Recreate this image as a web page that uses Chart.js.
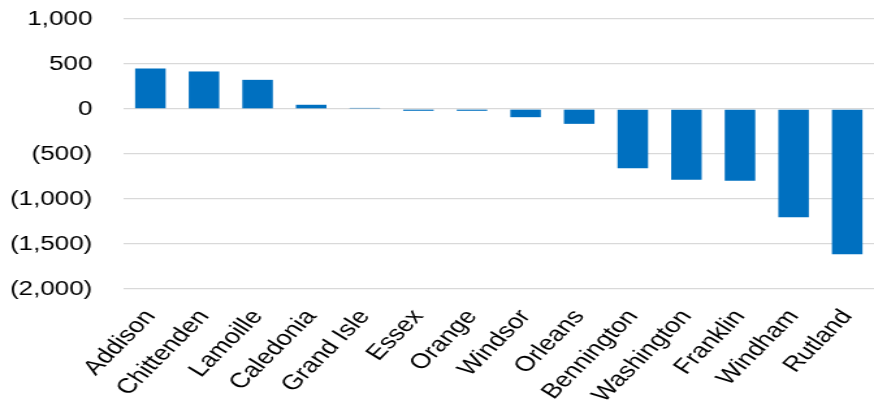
<!DOCTYPE html>
<html>
<head>
<meta charset="utf-8">
<script src="https://cdn.jsdelivr.net/npm/chart.js@4"></script>
<style>
  html, body { margin: 0; padding: 0; background: #fff; overflow: hidden; }
  /* the reference is stretched sideways, so draw narrow and widen it */
  #wrap {
    position: absolute; left: 0; top: -17px;
    width: 672px; height: 433px;
    transform: scaleX(1.3006); transform-origin: left top;
  }
</style>
</head>
<body>
<div id="wrap"><canvas id="chart"></canvas></div>
<script>
// counties, sorted by change
const counties = ['Addison', 'Chittenden', 'Lamoille', 'Caledonia', 'Grand Isle', 'Essex', 'Orange',
  'Windsor', 'Orleans', 'Bennington', 'Washington', 'Franklin', 'Windham', 'Rutland'];
const change = [450, 417, 324, 47, 12, -20, -20, -91, -165, -657, -787, -798, -1202, -1615];

// y axis range
const yMin = -2000;
const yMax = 1000;
const yStep = 500;

// format like (1,000) for negatives
function fmt(v) {
  const s = Math.abs(v).toLocaleString('en-US');
  return v < 0 ? '(' + s + ')' : s;
}

const font = { family: 'Liberation Sans, Arial, sans-serif', size: 20 };

new Chart(document.getElementById('chart'), {
  type: 'bar',
  data: {
    labels: counties,
    datasets: [{
      data: change,
      backgroundColor: '#0070C0',
      borderWidth: 0,
      barPercentage: 0.57,
      categoryPercentage: 1
    }]
  },
  options: {
    responsive: true,
    maintainAspectRatio: false,
    animation: false,
    layout: { padding: { top: 8, right: 0, left: 0, bottom: 0 } },
    plugins: { legend: { display: false }, tooltip: { enabled: false } },
    scales: {
      x: {
        grid: { display: false },
        border: { display: false },
        ticks: { color: '#000', font: { ...font, size: 21 }, maxRotation: 52, minRotation: 52, autoSkip: false, padding: 8 },
        afterFit: (scale) => {
          scale.height = 127;
          scale.paddingRight = 0;  // let the plot run to the right edge
        }
      },
      y: {
        min: yMin,
        max: yMax,
        grid: { color: '#d9d9d9', lineWidth: 1.3, drawTicks: false },
        border: { display: false },
        ticks: { stepSize: yStep, color: '#000', font: font, padding: 24, callback: fmt },
        afterFit: (scale) => { scale.width = 95; }
      }
    }
  }
});
</script>
</body>
</html>
